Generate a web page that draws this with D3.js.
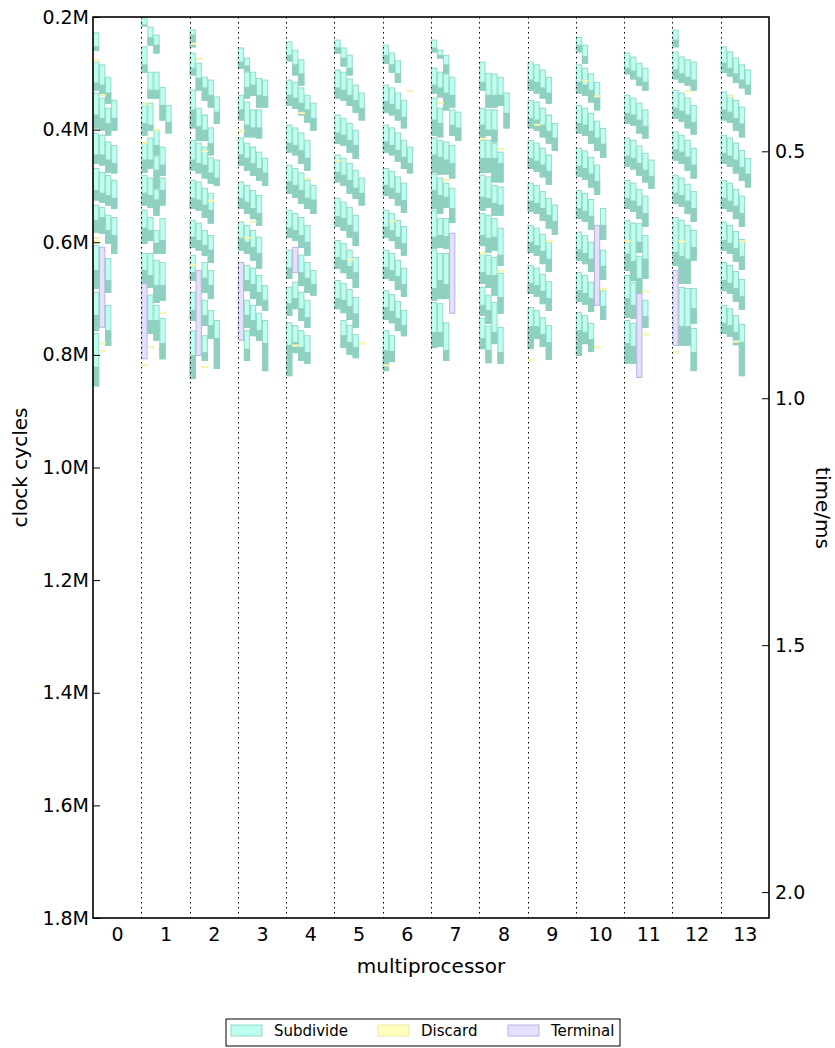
<!DOCTYPE html>
<html>
<head>
<meta charset="utf-8">
<script src="https://cdn.jsdelivr.net/npm/d3@7"></script>
<style>
  body { margin: 0; background: #fff; }
  text { font-family: "DejaVu Sans", sans-serif; fill: #000; }
</style>
</head>
<body>
<svg id="chart" width="835" height="1048"></svg>
<script>
// ---- data -------------------------------------------------------------
const multiprocessors = d3.range(14);
const cycleTicks = [200000, 400000, 600000, 800000, 1000000, 1200000, 1400000, 1600000, 1800000];
const timeTicks = [0.5, 1.0, 1.5, 2.0];
const cyclesPerMs = 877000;
const slotsPerMultiprocessor = 8;

// Subdivide tasks, one list per multiprocessor.
// Each row: [slot, start, writeStart, end], times in thousands of clock cycles.
const mp0 = [[0,228,253,259],
  [0,280,317,330],[1,285,321,339],[2,307,335,353],[3,348,380,401],
  [0,335,374,397],[1,344,380,401],[2,362,389,410],
  [0,406,445,460],[1,410,445,463],[2,422,454,476],[3,428,460,477],
  [0,469,508,525],[1,476,513,529],[2,481,517,534],[3,490,522,540],
  [0,534,561,582],[1,538,556,584],[2,552,579,602],[3,556,588,620],
  [0,606,650,682],[2,629,668,689],
  [0,689,730,757],[2,712,757,783],
  [0,762,822,855]];
const mp1 = [[0,202,214,216],[1,218,237,250],[2,232,250,264],[0,253,285,298],
  [1,298,330,344],[2,298,330,344],[3,325,357,383],[4,357,387,406],
  [0,353,389,410],[1,353,392,401],[2,401,428,445],[3,431,463,481],
  [0,424,454,476],[1,415,454,469],[2,447,472,504],
  [0,481,513,534],[1,486,517,538],[2,506,525,552],[3,486,508,534],
  [0,543,575,602],[1,556,579,597],[2,579,602,620],[3,558,597,620],
  [0,620,650,673],[1,620,659,680],[2,632,677,707],[3,636,677,703],
  [1,694,739,762],[2,712,739,774],[3,735,780,807]];
const mp2 = [[0,223,232,253],
  [0,264,291,303],[1,282,309,330],[2,307,326,348],[3,312,339,360],[4,342,369,389],
  [0,330,365,397],[1,362,395,419],[2,374,401,419],[3,397,425,445],
  [0,419,454,472],[1,424,460,477],[2,431,463,486],[3,450,477,495],[4,454,486,499],
  [0,490,522,540],[1,493,525,543],[2,504,534,556],[3,513,543,566],
  [0,561,591,609],[1,566,597,614],[2,579,606,623],[3,588,614,636],
  [0,623,654,668],[2,636,664,689],[3,650,677,700],
  [0,689,721,739],[2,703,730,748],[3,721,748,771],[4,739,771,824],
  [0,757,801,842],[2,766,796,810]];
const mp3 = [[0,255,280,291],[1,273,287,296],
  [1,298,325,344],[2,298,321,339],[3,309,339,360],[4,312,341,360],
  [0,339,365,383],[1,351,392,413],[2,365,397,413],[3,365,397,415],
  [0,415,445,463],[1,424,451,472],[2,431,460,481],[3,440,469,490],[4,451,477,499],
  [0,493,522,540],[1,499,529,549],[2,508,540,558],[3,517,549,570],
  [0,564,593,614],[1,570,600,620],[2,579,609,632],[3,591,620,646],
  [1,641,668,686],[2,646,675,700],[3,659,689,712],[4,677,703,721],
  [1,703,730,751],[2,712,739,766],[3,726,757,774],[4,739,780,828],
  [1,757,790,810]];
const mp4 = [[0,244,268,278],[1,259,285,303],[2,276,301,321],
  [0,312,339,357],[1,316,344,362],[2,326,353,374],[3,339,365,387],[4,353,380,401],
  [0,392,424,440],[1,397,428,445],[2,406,437,460],[3,419,451,472],
  [0,463,493,513],[1,469,499,520],[2,477,508,531],[3,490,522,540],[4,499,525,549],
  [0,543,575,591],[1,549,579,597],[2,556,588,609],[3,570,600,623],
  [0,614,646,664],[2,623,654,677],[3,636,664,689],[4,650,675,694],
  [1,671,700,718],[0,680,709,730],[2,689,718,739],[3,703,734,751],
  [0,743,783,837],[1,748,778,796],[2,757,787,810],[3,766,796,815]];
const mp5 = [[0,241,255,264],[1,255,273,287],[2,268,291,303],
  [0,294,326,344],[1,298,330,348],[2,310,339,357],[3,321,348,369],[4,335,362,383],
  [0,374,406,424],[1,380,410,428],[2,389,419,440],[3,401,428,451],
  [0,445,476,493],[1,451,481,499],[2,460,490,513],[3,472,504,522],[4,486,513,534],
  [0,522,554,572],[1,529,558,579],[2,538,570,591],[3,552,582,606],
  [0,597,627,646],[1,602,632,654],[2,614,643,664],[3,627,654,680],
  [0,668,700,718],[1,673,703,725],[2,684,714,737],[3,698,727,751],
  [1,739,766,787],[2,748,778,799],[3,764,787,805]];
const mp6 = [[0,250,268,282],[1,264,285,298],[2,278,301,316],
  [0,321,350,369],[1,326,355,374],[2,335,365,383],[3,348,378,397],
  [0,392,422,440],[1,397,428,445],[2,406,437,456],[3,419,449,469],[4,431,460,477],
  [0,469,499,517],[1,474,504,522],[2,484,513,534],[3,495,526,547],
  [0,543,573,591],[1,549,579,597],[2,561,591,611],[3,572,602,623],
  [0,614,645,664],[1,620,650,668],[2,632,661,684],[3,646,675,696],
  [0,686,716,737],[1,693,723,743],[2,705,735,757],[3,721,748,766],
  [0,757,792,828],[1,766,794,812]];
const mp7 = [[0,241,255,262],[1,259,268,273],[2,268,285,300],
  [0,291,321,335],[1,298,326,342],[2,301,335,365],[3,307,339,360],
  [0,344,383,410],[1,362,389,413],[3,365,392,410],[4,369,397,419],
  [0,415,445,476],[1,419,449,479],[2,422,454,479],[3,428,460,486],
  [0,479,508,540],[1,486,517,549],[2,495,520,538],[3,504,540,565],
  [0,543,591,611],[1,558,588,609],[2,558,590,611],
  [0,614,682,703],[1,620,668,700],[2,620,675,700],
  [0,707,760,787],[1,709,760,785],[2,743,792,810]];
const mp8 = [[0,280,316,330],[1,300,339,360],[2,301,339,360],[3,307,339,357],[4,335,371,397],
  [0,362,392,415],[1,365,401,410],[2,365,401,422],
  [0,419,451,476],[1,419,451,476],[2,425,451,493],[3,440,460,493],
  [0,481,520,543],[1,484,522,538],[2,499,531,552],[3,502,534,552],
  [0,549,588,606],[1,552,593,618],[2,558,591,614],[3,575,623,641],
  [0,620,654,673],[1,623,659,680],[2,627,659,694],[3,655,698,726],
  [0,680,712,730],[1,694,721,744],[2,707,760,780],[3,751,796,815],
  [0,735,771,789],[1,749,792,814]];
const mp9 = [[0,280,312,330],[1,285,316,335],[2,294,326,344],[3,307,335,353],
  [0,348,380,397],[1,351,383,401],[2,362,392,413],[3,374,403,424],[4,389,415,437],
  [0,419,451,469],[1,424,456,474],[2,433,463,484],[3,445,474,497],
  [0,495,527,545],[1,499,531,549],[2,510,540,561],[3,522,552,575],[4,534,563,586],
  [0,570,600,618],[1,575,606,623],[2,586,616,638],[3,600,630,652],
  [0,641,673,691],[1,646,677,696],[2,657,687,709],[3,670,700,721],
  [0,716,750,789],[1,721,750,771],[2,734,764,785],[3,748,778,808]];
const mp10 = [[0,236,250,262],[1,250,270,282],
  [0,285,316,335],[1,291,321,339],[2,301,330,351],[3,316,344,365],
  [0,357,389,406],[1,362,392,410],[2,371,403,424],[3,385,415,437],[4,398,426,449],
  [0,433,465,483],[1,438,469,488],[2,449,479,502],[3,463,492,515],
  [0,508,540,558],[1,513,545,563],[2,524,554,577],[4,540,570,595],
  [0,582,614,632],[1,588,620,638],[2,600,630,652],[4,614,643,666],
  [0,654,686,705],[1,659,691,710],[2,671,700,723],[4,686,714,737],
  [0,725,757,801],[1,730,760,780],[2,744,773,794]];
const mp11 = [[0,264,291,301],[1,271,296,310],[2,282,307,321],[3,291,316,330],
  [0,339,371,389],[1,344,374,392],[2,353,383,406],[3,365,394,415],
  [0,415,447,465],[1,419,451,470],[2,429,460,481],[3,442,472,493],[4,454,483,504],
  [0,490,522,540],[1,495,527,545],[2,506,536,558],[3,518,549,572],
  [0,561,621,650],[1,566,634,668],[2,567,600,618],[3,588,630,664],
  [2,625,664,691],
  [0,659,700,733],[1,671,712,735],[3,703,732,751],
  [0,739,780,815],[1,744,785,815]];
const mp12 = [[0,223,241,253],
  [0,262,294,310],[1,271,301,316],[2,276,307,321],[3,280,312,330],
  [0,330,362,380],[1,335,367,385],[2,344,374,397],[3,357,387,408],
  [0,404,436,454],[1,410,440,460],[2,419,449,472],[3,433,463,486],
  [0,481,513,531],[1,486,517,536],[2,497,527,549],[3,510,540,563],
  [0,556,618,641],[1,561,625,673],[2,570,630,673],[3,579,609,632],
  [1,680,750,783],[2,682,750,783],[3,682,718,744],
  [3,753,796,828]];
const mp13 = [[0,253,282,298],[1,262,291,305],[2,273,301,316],[3,285,312,326],[4,294,321,337],
  [0,333,365,383],[1,339,369,387],[2,348,380,401],[3,360,390,413],
  [0,410,442,460],[1,415,447,465],[2,424,454,477],[3,437,467,490],[4,451,479,502],
  [0,490,522,540],[1,495,527,545],[2,506,536,558],[3,518,549,572],
  [0,564,597,614],[1,570,602,620],[2,581,611,634],[3,595,625,648],
  [0,636,668,686],[1,641,673,691],[2,652,682,705],[3,666,696,719],
  [0,712,744,762],[1,718,748,767],[2,730,760,782],[3,746,778,837]];
const subdivideByMultiprocessor = [mp0, mp1, mp2, mp3, mp4, mp5, mp6, mp7, mp8, mp9, mp10, mp11, mp12, mp13];

// Terminal tasks: [multiprocessor, slot, start, end] (thousand cycles)
const terminalTasks = [[0,1,609,751],[1,0,673,807],[2,1,650,801],[3,0,636,774],[4,1,609,654],
  [7,3,584,726],[10,3,570,712],[11,2,691,840],[12,0,650,783]];

// Discard tasks: [multiprocessor, slot, start, end] (thousand cycles)
const discardTasks = [
  [0,0,276,279],[0,1,337,340],[0,0,591,594],[0,0,597,600],[0,1,778,781],[0,1,792,795],
  [1,0,353,356],[1,2,399,402],[1,0,422,425],[1,3,724,727],[1,1,785,788],[1,0,817,820],
  [2,0,246,249],[2,1,273,276],[2,2,437,440],[2,3,525,528],[2,0,639,642],[2,2,820,823],
  [3,0,401,404],[3,1,591,594],[3,2,562,565],
  [4,2,369,372],[4,3,486,489],[4,1,782,785],
  [5,0,454,457],[5,2,629,632],[5,4,778,781],
  [6,0,817,820],[6,4,330,333],[6,1,561,564],
  [7,1,351,354],[7,2,488,491],
  [8,0,415,418],[8,3,433,436],[8,0,618,621],[8,3,650,653],
  [9,0,808,811],[9,3,597,600],[9,1,390,393],
  [10,1,312,315],[10,3,339,342],[10,4,682,685],[10,3,785,788],
  [11,3,686,689],[11,3,762,765],[11,0,597,600],
  [12,0,794,797],[12,2,330,333],[12,1,597,600],
  [13,3,597,600],[13,1,339,342],[13,2,775,778]];

const legendItems = ["Subdivide", "Discard", "Terminal"];

// ---- styling ----------------------------------------------------------
const colors = {
  subFill: "#bdfff0", subEdge: "#95d9c6", subDark: "#8fd0c0",
  discardFill: "#ffffc0", discardEdge: "#eee8a0",
  termFill: "#e3e1fb", termEdge: "#b9b1e4"
};

// ---- layout -----------------------------------------------------------
const svg = d3.select("#chart");
const plot = { left: 93, right: 769, top: 17, bottom: 918 };

const x = d3.scaleLinear().domain([-0.5, 13.5]).range([plot.left, plot.right]);
const y = d3.scaleLinear().domain([200000, 1800000]).range([plot.top, plot.bottom]);
const yTime = d3.scaleLinear()
  .domain([200000 / cyclesPerMs, 1800000 / cyclesPerMs])
  .range([plot.top, plot.bottom]);

const slotWidth = x(1 / slotsPerMultiprocessor) - x(0);
const slotX = (mp, slot) => x(mp - 0.5 + slot / slotsPerMultiprocessor);

svg.append("defs").append("clipPath").attr("id", "plot-clip")
  .append("rect").attr("x", plot.left).attr("y", plot.top)
  .attr("width", plot.right - plot.left).attr("height", plot.bottom - plot.top);

const marks = svg.append("g").attr("clip-path", "url(#plot-clip)");

const subdivide = subdivideByMultiprocessor.flatMap((rows, mp) =>
  rows.map(([slot, start, write, end]) => ({ mp, slot, start: start * 1000, write: write * 1000, end: end * 1000 })));

// subdivide bars: light body with outline, darker write phase at the bottom
marks.append("g").selectAll("rect").data(subdivide).join("rect")
  .attr("x", d => slotX(d.mp, d.slot) + 0.5)
  .attr("y", d => y(d.start))
  .attr("width", slotWidth - 0.8)
  .attr("height", d => y(d.end) - y(d.start))
  .attr("fill", colors.subFill)
  .attr("stroke", colors.subEdge)
  .attr("stroke-width", 1);

marks.append("g").selectAll("rect").data(subdivide).join("rect")
  .attr("x", d => slotX(d.mp, d.slot) + 0.5)
  .attr("y", d => y(d.write))
  .attr("width", slotWidth - 0.8)
  .attr("height", d => y(d.end) - y(d.write))
  .attr("fill", colors.subDark)
  .attr("stroke", colors.subDark)
  .attr("stroke-width", 1);

const terminal = terminalTasks.map(([mp, slot, start, end]) => ({ mp, slot, start: start * 1000, end: end * 1000 }));
marks.append("g").selectAll("rect").data(terminal).join("rect")
  .attr("x", d => slotX(d.mp, d.slot) + 0.5)
  .attr("y", d => y(d.start))
  .attr("width", slotWidth - 0.8)
  .attr("height", d => y(d.end) - y(d.start))
  .attr("fill", colors.termFill)
  .attr("stroke", colors.termEdge)
  .attr("stroke-width", 1);

const discard = discardTasks.map(([mp, slot, start, end]) => ({ mp, slot, start: start * 1000, end: end * 1000 }));
marks.append("g").selectAll("rect").data(discard).join("rect")
  .attr("x", d => slotX(d.mp, d.slot) + 0.5)
  .attr("y", d => y(d.start))
  .attr("width", slotWidth)
  .attr("height", d => Math.max(1.5, y(d.end) - y(d.start)))
  .attr("fill", colors.discardFill)
  .attr("stroke", colors.discardEdge)
  .attr("stroke-width", 0.6);

// dotted separators between multiprocessors
svg.append("g").selectAll("line").data(multiprocessors.slice(0, -1)).join("line")
  .attr("x1", d => Math.round(x(d + 0.5)) + 0.5).attr("x2", d => Math.round(x(d + 0.5)) + 0.5)
  .attr("y1", plot.top).attr("y2", plot.bottom)
  .attr("stroke", "#000").attr("stroke-width", 1)
  .attr("stroke-dasharray", "1.5,3.5");

// ---- axes -------------------------------------------------------------
const tickFont = "19px";
const leftAxis = svg.append("g").attr("transform", `translate(${plot.left},0)`)
  .call(d3.axisLeft(y).tickValues(cycleTicks)
    .tickFormat(d => (d / 1e6).toFixed(1) + "M")
    .tickSizeInner(-7).tickSizeOuter(0).tickPadding(4));
leftAxis.select(".domain").remove();
leftAxis.selectAll("text").style("font-size", tickFont).attr("font-family", null);

const rightAxis = svg.append("g").attr("transform", `translate(${plot.right},0)`)
  .call(d3.axisRight(yTime).tickValues(timeTicks)
    .tickFormat(d3.format(".1f"))
    .tickSizeInner(-7).tickSizeOuter(0).tickPadding(6));
rightAxis.select(".domain").remove();
rightAxis.selectAll("text").style("font-size", tickFont).attr("font-family", null);

const bottomAxis = svg.append("g").attr("transform", `translate(0,${plot.bottom})`)
  .call(d3.axisBottom(x).tickValues(multiprocessors).tickFormat(d3.format("d"))
    .tickSizeInner(0).tickSizeOuter(0).tickPadding(10));
bottomAxis.select(".domain").remove();
bottomAxis.selectAll("text").style("font-size", tickFont).attr("font-family", null);

svg.selectAll(".tick line").attr("stroke", "#000").attr("stroke-width", 1);

// frame
svg.append("rect")
  .attr("x", plot.left).attr("y", plot.top)
  .attr("width", plot.right - plot.left).attr("height", plot.bottom - plot.top)
  .attr("fill", "none").attr("stroke", "#000").attr("stroke-width", 1.6);

// axis titles
svg.append("text")
  .attr("transform", `translate(27,${(plot.top + plot.bottom) / 2}) rotate(-90)`)
  .attr("text-anchor", "middle").style("font-size", "20px")
  .text("clock cycles");
svg.append("text")
  .attr("transform", `translate(816,508) rotate(90)`)
  .attr("text-anchor", "middle").style("font-size", "20px")
  .text("time/ms");
svg.append("text")
  .attr("x", (plot.left + plot.right) / 2).attr("y", 973)
  .attr("text-anchor", "middle").style("font-size", "20px")
  .text("multiprocessor");

// ---- legend -----------------------------------------------------------
const legend = svg.append("g").attr("transform", "translate(226,1019)");
legend.append("rect").attr("width", 394).attr("height", 27)
  .attr("fill", "#fff").attr("stroke", "#000").attr("stroke-width", 1);
const legendFill = [colors.subFill, colors.discardFill, colors.termFill];
const legendEdge = [colors.subEdge, colors.discardEdge, colors.termEdge];
const legendX = [5, 152, 282];
const entry = legend.selectAll("g.item").data(legendItems).join("g")
  .attr("class", "item")
  .attr("transform", (d, i) => `translate(${legendX[i]},0)`);
entry.append("rect").attr("x", 0).attr("y", 6).attr("width", 31).attr("height", 11)
  .attr("fill", (d, i) => legendFill[i]).attr("stroke", (d, i) => legendEdge[i]).attr("stroke-width", 1);
entry.append("text").attr("x", 43).attr("y", 17).style("font-size", "15px").text(d => d);
</script>
</body>
</html>
